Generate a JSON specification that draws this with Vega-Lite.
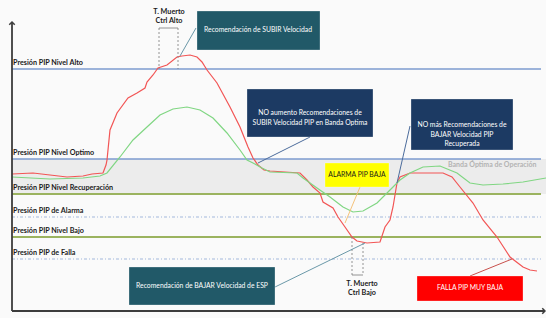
{
  "$schema": "https://vega.github.io/schema/vega-lite/v6.json",
  "width": 546,
  "height": 318,
  "autosize": "none",
  "padding": 0,
  "background": "#fafafa",
  "config": {"view": {"stroke": null}, "font": "Lato"},
  "datasets": {
    "banda": [{"t": 12, "t2": 546, "p": 124, "p2": 159}],
    "niveles": [
      {"nivel": "Presión PIP Nivel Alto", "t": 12, "t2": 541, "p": 249, "tipo": "azul"},
      {"nivel": "Presión PIP Nivel Optimo", "t": 12, "t2": 541, "p": 159, "tipo": "azul"},
      {"nivel": "Presión PIP Nivel Recuperación", "t": 12, "t2": 541, "p": 124, "tipo": "verde"},
      {"nivel": "Presión PIP de Alarma", "t": 12, "t2": 541, "p": 101, "tipo": "trazo"},
      {"nivel": "Presión PIP Nivel Bajo", "t": 12, "t2": 541, "p": 81, "tipo": "verde"},
      {"nivel": "Presión PIP de Falla", "t": 12, "t2": 541, "p": 59, "tipo": "trazo"}
    ],
    "ejes": [
      {"t": 12, "p": 7, "t2": 12, "p2": 296},
      {"t": 12, "p": 7, "t2": 545, "p2": 7}
    ],
    "flecha_y": [{"t": 12, "p": 296}],
    "flecha_x": [{"t": 545, "p": 7}],
    "curvas": [
      {"serie": "curva_roja", "i": 1, "t": 12, "p": 144},
      {"serie": "curva_roja", "i": 2, "t": 33, "p": 145},
      {"serie": "curva_roja", "i": 3, "t": 50, "p": 143},
      {"serie": "curva_roja", "i": 4, "t": 67, "p": 141},
      {"serie": "curva_roja", "i": 5, "t": 83, "p": 142},
      {"serie": "curva_roja", "i": 6, "t": 92, "p": 144},
      {"serie": "curva_roja", "i": 7, "t": 103, "p": 145},
      {"serie": "curva_roja", "i": 8, "t": 106, "p": 153},
      {"serie": "curva_roja", "i": 9, "t": 107, "p": 158},
      {"serie": "curva_roja", "i": 10, "t": 110, "p": 188},
      {"serie": "curva_roja", "i": 11, "t": 117, "p": 205},
      {"serie": "curva_roja", "i": 12, "t": 128, "p": 220},
      {"serie": "curva_roja", "i": 13, "t": 137, "p": 225},
      {"serie": "curva_roja", "i": 14, "t": 145, "p": 230},
      {"serie": "curva_roja", "i": 15, "t": 147, "p": 236},
      {"serie": "curva_roja", "i": 16, "t": 153, "p": 243},
      {"serie": "curva_roja", "i": 17, "t": 158, "p": 250},
      {"serie": "curva_roja", "i": 18, "t": 167, "p": 253},
      {"serie": "curva_roja", "i": 19, "t": 177, "p": 261},
      {"serie": "curva_roja", "i": 20, "t": 182, "p": 262},
      {"serie": "curva_roja", "i": 21, "t": 190, "p": 263},
      {"serie": "curva_roja", "i": 22, "t": 197, "p": 261},
      {"serie": "curva_roja", "i": 23, "t": 202, "p": 256},
      {"serie": "curva_roja", "i": 24, "t": 207, "p": 248},
      {"serie": "curva_roja", "i": 25, "t": 217, "p": 235},
      {"serie": "curva_roja", "i": 26, "t": 230, "p": 211},
      {"serie": "curva_roja", "i": 27, "t": 240, "p": 191},
      {"serie": "curva_roja", "i": 28, "t": 248, "p": 171},
      {"serie": "curva_roja", "i": 29, "t": 253, "p": 160},
      {"serie": "curva_roja", "i": 30, "t": 258, "p": 153},
      {"serie": "curva_roja", "i": 31, "t": 264, "p": 148},
      {"serie": "curva_roja", "i": 32, "t": 270, "p": 147},
      {"serie": "curva_roja", "i": 33, "t": 285, "p": 146},
      {"serie": "curva_roja", "i": 34, "t": 300, "p": 145},
      {"serie": "curva_roja", "i": 35, "t": 307, "p": 138},
      {"serie": "curva_roja", "i": 36, "t": 313, "p": 131},
      {"serie": "curva_roja", "i": 37, "t": 320, "p": 125},
      {"serie": "curva_roja", "i": 38, "t": 323, "p": 116},
      {"serie": "curva_roja", "i": 39, "t": 333, "p": 110},
      {"serie": "curva_roja", "i": 40, "t": 338, "p": 101},
      {"serie": "curva_roja", "i": 41, "t": 345, "p": 91},
      {"serie": "curva_roja", "i": 42, "t": 352, "p": 81},
      {"serie": "curva_roja", "i": 43, "t": 357, "p": 77},
      {"serie": "curva_roja", "i": 44, "t": 367, "p": 75},
      {"serie": "curva_roja", "i": 45, "t": 380, "p": 76},
      {"serie": "curva_roja", "i": 46, "t": 385, "p": 91},
      {"serie": "curva_roja", "i": 47, "t": 390, "p": 98},
      {"serie": "curva_roja", "i": 48, "t": 393, "p": 111},
      {"serie": "curva_roja", "i": 49, "t": 397, "p": 135},
      {"serie": "curva_roja", "i": 50, "t": 400, "p": 141},
      {"serie": "curva_roja", "i": 51, "t": 410, "p": 145},
      {"serie": "curva_roja", "i": 52, "t": 420, "p": 145},
      {"serie": "curva_roja", "i": 53, "t": 443, "p": 145},
      {"serie": "curva_roja", "i": 54, "t": 452, "p": 141},
      {"serie": "curva_roja", "i": 55, "t": 460, "p": 131},
      {"serie": "curva_roja", "i": 56, "t": 473, "p": 115},
      {"serie": "curva_roja", "i": 57, "t": 483, "p": 98},
      {"serie": "curva_roja", "i": 58, "t": 497, "p": 81},
      {"serie": "curva_roja", "i": 59, "t": 510, "p": 61},
      {"serie": "curva_roja", "i": 60, "t": 523, "p": 51},
      {"serie": "curva_roja", "i": 61, "t": 530, "p": 48},
      {"serie": "curva_roja", "i": 62, "t": 537, "p": 47},
      {"serie": "curva_verde", "i": 1, "t": 12, "p": 141},
      {"serie": "curva_verde", "i": 2, "t": 50, "p": 139},
      {"serie": "curva_verde", "i": 3, "t": 83, "p": 140},
      {"serie": "curva_verde", "i": 4, "t": 100, "p": 142},
      {"serie": "curva_verde", "i": 5, "t": 107, "p": 145},
      {"serie": "curva_verde", "i": 6, "t": 120, "p": 161},
      {"serie": "curva_verde", "i": 7, "t": 133, "p": 178},
      {"serie": "curva_verde", "i": 8, "t": 147, "p": 191},
      {"serie": "curva_verde", "i": 9, "t": 160, "p": 203},
      {"serie": "curva_verde", "i": 10, "t": 173, "p": 209},
      {"serie": "curva_verde", "i": 11, "t": 187, "p": 211},
      {"serie": "curva_verde", "i": 12, "t": 200, "p": 208},
      {"serie": "curva_verde", "i": 13, "t": 213, "p": 200},
      {"serie": "curva_verde", "i": 14, "t": 227, "p": 185},
      {"serie": "curva_verde", "i": 15, "t": 240, "p": 168},
      {"serie": "curva_verde", "i": 16, "t": 247, "p": 158},
      {"serie": "curva_verde", "i": 17, "t": 253, "p": 155},
      {"serie": "curva_verde", "i": 18, "t": 262, "p": 150},
      {"serie": "curva_verde", "i": 19, "t": 270, "p": 146},
      {"serie": "curva_verde", "i": 20, "t": 297, "p": 145},
      {"serie": "curva_verde", "i": 21, "t": 303, "p": 140},
      {"serie": "curva_verde", "i": 22, "t": 317, "p": 130},
      {"serie": "curva_verde", "i": 23, "t": 330, "p": 121},
      {"serie": "curva_verde", "i": 24, "t": 343, "p": 111},
      {"serie": "curva_verde", "i": 25, "t": 353, "p": 106},
      {"serie": "curva_verde", "i": 26, "t": 363, "p": 107},
      {"serie": "curva_verde", "i": 27, "t": 377, "p": 115},
      {"serie": "curva_verde", "i": 28, "t": 390, "p": 128},
      {"serie": "curva_verde", "i": 29, "t": 400, "p": 138},
      {"serie": "curva_verde", "i": 30, "t": 410, "p": 145},
      {"serie": "curva_verde", "i": 31, "t": 423, "p": 151},
      {"serie": "curva_verde", "i": 32, "t": 440, "p": 152},
      {"serie": "curva_verde", "i": 33, "t": 457, "p": 145},
      {"serie": "curva_verde", "i": 34, "t": 470, "p": 135},
      {"serie": "curva_verde", "i": 35, "t": 483, "p": 133},
      {"serie": "curva_verde", "i": 36, "t": 503, "p": 134},
      {"serie": "curva_verde", "i": 37, "t": 523, "p": 136},
      {"serie": "curva_verde", "i": 38, "t": 546, "p": 140}
    ],
    "muerto": [
      {"t": 159, "p": 290, "t2": 159, "p2": 249},
      {"t": 178, "p": 290, "t2": 178, "p2": 249},
      {"t": 352, "p": 81, "t2": 352, "p2": 43},
      {"t": 363, "p": 75, "t2": 363, "p2": 43}
    ],
    "muerto_tapa": [
      {"t": 159, "p": 290, "t2": 178, "p2": 290},
      {"t": 352, "p": 43, "t2": 363, "p2": 43}
    ],
    "muerto_texto": [
      {"texto": "T. Muerto", "t": 169, "p": 306},
      {"texto": "Ctrl Alto", "t": 169, "p": 297},
      {"texto": "T. Muerto", "t": 362, "p": 34},
      {"texto": "Ctrl Bajo", "t": 362, "p": 25}
    ],
    "conectores": [
      {"tipo": "con_teal", "t": 196, "p": 290, "t2": 180, "p2": 262},
      {"tipo": "con_navy", "t": 310, "p": 181, "t2": 258, "p2": 155},
      {"tipo": "con_navy", "t": 410, "p": 192, "t2": 397, "p2": 135},
      {"tipo": "con_naranja", "t": 360, "p": 131, "t2": 345, "p2": 95},
      {"tipo": "con_teal", "t": 275, "p": 31, "t2": 365, "p2": 75},
      {"tipo": "con_roja", "t": 470, "p": 42, "t2": 512, "p2": 59}
    ],
    "cajas": [
      {"texto": "Recomendación de SUBIR Velocidad", "tipo": "caja_teal", "t": 197, "t2": 320, "p": 268, "p2": 307, "ct": 258, "cp": 288},
      {"texto": "NO aumento Recomendaciones de\nSUBIR Velocidad PIP en Banda Optima", "tipo": "caja_navy", "t": 247, "t2": 373, "p": 181, "p2": 229, "ct": 310, "cp": 205},
      {"texto": "NO más Recomendaciones de\nBAJAR Velocidad PIP\nRecuperada", "tipo": "caja_navy", "t": 411, "t2": 513, "p": 168, "p2": 219, "ct": 462, "cp": 193},
      {"texto": "ALARMA PIP BAJA", "tipo": "caja_amarilla", "t": 325, "t2": 389, "p": 131, "p2": 155, "ct": 357, "cp": 143},
      {"texto": "Recomendación de BAJAR Velocidad de ESP", "tipo": "caja_teal", "t": 129, "t2": 275, "p": 13, "p2": 51, "ct": 202, "cp": 32},
      {"texto": "FALLA PIP MUY BAJA", "tipo": "caja_roja", "t": 417, "t2": 523, "p": 17, "p2": 42, "ct": 470, "cp": 30}
    ]
  },
  "encoding": {
    "x": {"field": "t", "type": "quantitative", "axis": null, "scale": {"domain": [0, 546], "nice": false, "zero": false}},
    "y": {"field": "p", "type": "quantitative", "axis": null, "scale": {"domain": [0, 318], "nice": false, "zero": false}}
  },
  "layer": [
    {
      "data": {"name": "banda"},
      "mark": {"type": "rect", "color": "#ececec"},
      "encoding": {"x2": {"field": "t2"}, "y2": {"field": "p2"}}
    },
    {
      "data": {"name": "niveles"},
      "transform": [{"filter": "datum.tipo === 'azul'"}],
      "mark": {"type": "rule", "color": "#7d9bcf", "strokeWidth": 1.6},
      "encoding": {"x2": {"field": "t2"}}
    },
    {
      "data": {"name": "niveles"},
      "transform": [{"filter": "datum.tipo === 'verde'"}],
      "mark": {"type": "rule", "color": "#9bb35f", "strokeWidth": 2},
      "encoding": {"x2": {"field": "t2"}}
    },
    {
      "data": {"name": "niveles"},
      "transform": [{"filter": "datum.tipo === 'trazo'"}],
      "mark": {"type": "rule", "color": "#a3b8dc", "strokeWidth": 1, "strokeDash": [3, 2, 1, 2]},
      "encoding": {"x2": {"field": "t2"}}
    },
    {
      "data": {"name": "niveles"},
      "mark": {"type": "text", "align": "left", "baseline": "alphabetic", "dx": 1, "dy": -4, "font": "Lato", "fontWeight": "bold", "fontSize": 7.2, "color": "#1a1a1a"},
      "encoding": {"text": {"field": "nivel"}}
    },
    {
      "data": {"name": "banda"},
      "mark": {"type": "text", "align": "left", "baseline": "middle", "font": "Lato", "fontWeight": "bold", "fontSize": 7, "color": "#b3b3b3"},
      "encoding": {"x": {"datum": 448}, "y": {"datum": 153}, "text": {"value": "Banda Óptima de Operación"}}
    },
    {
      "data": {"name": "curvas"},
      "mark": {"type": "line", "strokeWidth": 1.2},
      "encoding": {
        "order": {"field": "i", "type": "quantitative"},
        "color": {"field": "serie", "type": "nominal", "legend": null, "scale": {"domain": ["curva_roja", "curva_verde", "con_teal", "con_navy", "con_naranja", "con_roja", "caja_teal", "caja_navy", "caja_amarilla", "caja_roja"], "range": ["#f25555", "#80d683", "#6a98a8", "#4c6c9c", "#f5c27a", "#c8504c", "#215968", "#1c3a63", "#ffff00", "#ff0000"]}}
      }
    },
    {
      "data": {"name": "ejes"},
      "mark": {"type": "rule", "color": "#3c3c3c", "strokeWidth": 1.8},
      "encoding": {"x2": {"field": "t2"}, "y2": {"field": "p2"}}
    },
    {
      "data": {"name": "flecha_y"},
      "mark": {"type": "point", "shape": "M-1,1L0,0L1,1", "filled": false, "size": 30, "strokeWidth": 1.5, "color": "#3c3c3c", "opacity": 1},
      "encoding": {}
    },
    {
      "data": {"name": "flecha_x"},
      "mark": {"type": "point", "shape": "M-1,-1L0,0L-1,1", "filled": false, "size": 30, "strokeWidth": 1.5, "color": "#3c3c3c", "opacity": 1},
      "encoding": {}
    },
    {
      "data": {"name": "muerto"},
      "mark": {"type": "rule", "color": "#7a7a7a", "strokeWidth": 0.8, "strokeDash": [2, 2]},
      "encoding": {"x2": {"field": "t2"}, "y2": {"field": "p2"}}
    },
    {
      "data": {"name": "muerto_tapa"},
      "mark": {"type": "rule", "color": "#7a7a7a", "strokeWidth": 0.8},
      "encoding": {"x2": {"field": "t2"}, "y2": {"field": "p2"}}
    },
    {
      "data": {"name": "muerto_texto"},
      "mark": {"type": "text", "align": "center", "baseline": "middle", "font": "Lato", "fontWeight": "bold", "fontSize": 7.2, "color": "#1a1a1a"},
      "encoding": {"text": {"field": "texto"}}
    },
    {
      "data": {"name": "conectores"},
      "mark": {"type": "rule", "strokeWidth": 1},
      "encoding": {
        "x2": {"field": "t2"},
        "y2": {"field": "p2"},
        "color": {"field": "tipo", "type": "nominal", "legend": null, "scale": {"domain": ["curva_roja", "curva_verde", "con_teal", "con_navy", "con_naranja", "con_roja", "caja_teal", "caja_navy", "caja_amarilla", "caja_roja"], "range": ["#f25555", "#80d683", "#6a98a8", "#4c6c9c", "#f5c27a", "#c8504c", "#215968", "#1c3a63", "#ffff00", "#ff0000"]}}
      }
    },
    {
      "data": {"name": "cajas"},
      "mark": {"type": "rect", "stroke": "#ffffff", "strokeOpacity": 0.35, "strokeWidth": 0.8},
      "encoding": {
        "x2": {"field": "t2"},
        "y2": {"field": "p2"},
        "color": {"field": "tipo", "type": "nominal", "legend": null, "scale": {"domain": ["curva_roja", "curva_verde", "con_teal", "con_navy", "con_naranja", "con_roja", "caja_teal", "caja_navy", "caja_amarilla", "caja_roja"], "range": ["#f25555", "#80d683", "#6a98a8", "#4c6c9c", "#f5c27a", "#c8504c", "#215968", "#1c3a63", "#ffff00", "#ff0000"]}}
      }
    },
    {
      "data": {"name": "cajas"},
      "mark": {"type": "text", "align": "center", "baseline": "middle", "lineBreak": "\n", "lineHeight": 9.5, "font": "Lato", "fontSize": 6.8},
      "encoding": {
        "x": {"field": "ct", "type": "quantitative"},
        "y": {"field": "cp", "type": "quantitative"},
        "text": {"field": "texto"},
        "color": {"condition": {"test": "datum.tipo === 'caja_amarilla'", "value": "#1a1a1a"}, "value": "#ffffff"}
      }
    }
  ]
}
